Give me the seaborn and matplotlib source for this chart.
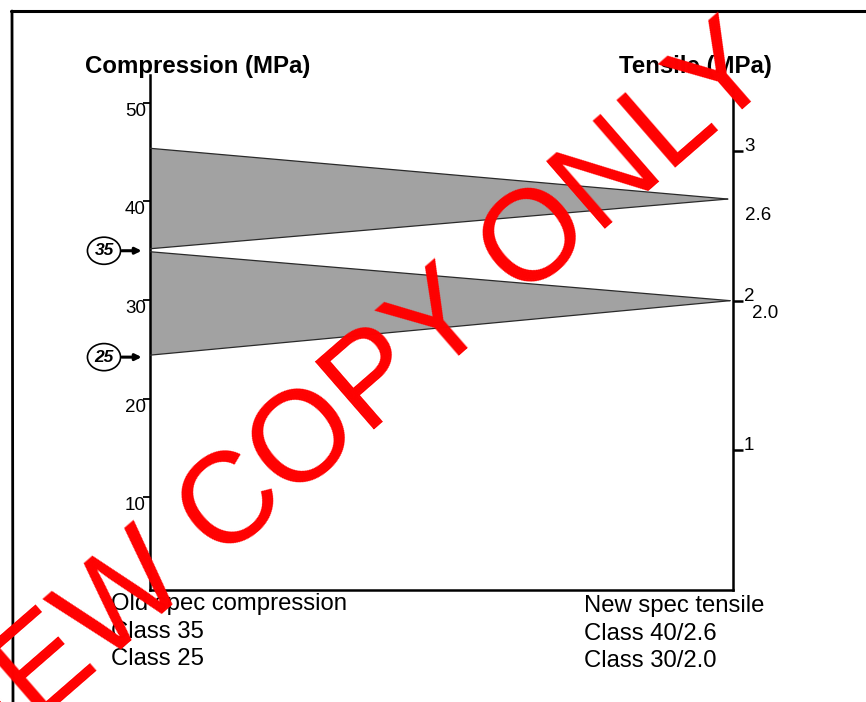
import matplotlib
matplotlib.use("Agg")
import matplotlib.pyplot as plt
from matplotlib.lines import Line2D
import numpy as np
import pandas as pd
import seaborn as sns

# ---------------- data ----------------
compression_ticks = [10, 20, 30, 40, 50]
tensile_ticks = [1, 2, 3]
band_names = ["Class 40/2.6", "Class 30/2.0"]
band_left_top = [45.4, 34.9]        # compression MPa at left edge
band_left_bottom = [35.2, 24.4]     # compression MPa at left edge
band_tip_tensile = [2.68, 2.0]      # tensile MPa at right tip
band_tip_x = [0.991, 0.995]         # fraction of width where the band closes
old_class_labels = ["35", "25"]
old_class_levels = [35.0, 24.2]     # compression MPa (arrow positions)
tensile_notes = ["2.6", "2.0"]
tensile_note_levels = [2.6, 2.0]
left_lines = ["Old spec compression", "Class 35", "Class 25"]
right_lines = ["New spec tensile", "Class 40/2.6", "Class 30/2.0"]

# ---------------- figure ----------------
sns.set_theme(style="white")
plt.rcParams["font.family"] = ["Liberation Sans", "DejaVu Sans"]
plt.rcParams["text.color"] = "black"

W, H = 866, 702
fig = plt.figure(figsize=(W / 100, H / 100), dpi=100)
fig.patch.set_facecolor("white")

def fx(px):
    return px / W

def fy(py):
    return 1 - py / H

ax = fig.add_axes([fx(150), fy(590), (733 - 150) / W, (590 - 75) / H])
ax2 = ax.twinx()

yl = (0.56, 52.84)
yr = (0.064, 3.51)
ax.set_xlim(0, 1)
ax.set_ylim(*yl)
ax2.set_ylim(*yr)

def t2c(t):
    return yl[0] + (t - yr[0]) / (yr[1] - yr[0]) * (yl[1] - yl[0])

for top, bot, tip_t, tip_x in zip(band_left_top, band_left_bottom,
                                  band_tip_tensile, band_tip_x):
    tip = t2c(tip_t)
    xs = np.array([0.0, tip_x])
    ax.fill_between(xs, [top, tip], [bot, tip], facecolor="#a2a2a2",
                    edgecolor="none", zorder=2)
    edges = pd.DataFrame({"x": [0.0, tip_x, 0.0, tip_x],
                          "y": [top, tip, bot, tip],
                          "edge": ["top", "top", "bottom", "bottom"]})
    sns.lineplot(data=edges, x="x", y="y", units="edge", estimator=None,
                 color="#2a2a2a", lw=0.9, ax=ax, zorder=3)

# spines
for s in ["top", "right"]:
    ax.spines[s].set_visible(False)
for s in ["top", "left", "bottom"]:
    ax2.spines[s].set_visible(False)
for s in ["left", "bottom"]:
    ax.spines[s].set_linewidth(1.8)
    ax.spines[s].set_color("black")
ax2.spines["right"].set_linewidth(1.8)
ax2.spines["right"].set_color("black")
ax2.spines["right"].set_bounds(yr[0], 3.43)

ax.set_xticks([])
ax.set_xlabel("")
ax.set_ylabel("")
ax2.set_ylabel("")
ax.set_yticks(compression_ticks)
ax.set_yticklabels([str(v) for v in compression_ticks])
ax.tick_params(axis="y", left=True, direction="out", length=5, width=1.3,
               pad=-2, labelsize=13.5, colors="black")
for lbl in ax.get_yticklabels():
    lbl.set_va("top")
ax2.set_yticks(tensile_ticks)
ax2.set_yticklabels([str(v) for v in tensile_ticks])
ax2.tick_params(axis="y", right=True, direction="out", length=7, width=1.8,
                pad=1, labelsize=13.5, colors="black")
for lbl in ax2.get_yticklabels():
    lbl.set_va("baseline")
ax.grid(False)
ax2.grid(False)

# extra tensile notes on the right
for txt, lev, off in zip(tensile_notes, tensile_note_levels,
                         [(12, -5), (19, -13)]):
    ax2.annotate(txt, xy=(1, lev), xycoords=("axes fraction", "data"),
                 xytext=off, textcoords="offset pixels", ha="left",
                 va="center", fontsize=13.5, color="black")

# circled old class markers with arrows
for lab, lev in zip(old_class_labels, old_class_levels):
    ax.annotate("", xy=(0, lev), xycoords=("axes fraction", "data"),
                xytext=(-28, 0), textcoords="offset pixels",
                arrowprops=dict(arrowstyle="-|>", color="black", lw=2.2,
                                mutation_scale=9, shrinkA=0, shrinkB=6),
                annotation_clip=False)
    ax.annotate(lab, xy=(0, lev), xycoords=("axes fraction", "data"),
                xytext=(-46, 0), textcoords="offset pixels", ha="center",
                va="center", fontsize=12.5, fontweight="bold", style="italic",
                color="black",
                bbox=dict(boxstyle="ellipse,pad=0.12", fc="white",
                          ec="black", lw=1.2),
                annotation_clip=False)

# titles
fig.text(fx(85), fy(67), "Compression (MPa)", ha="left", va="center",
         fontsize=17.3, fontweight="bold", color="black")
fig.text(fx(772), fy(67), "Tensile (MPa)", ha="right", va="center",
         fontsize=17.3, fontweight="bold", color="black")

# bottom captions
for i, (l, r) in enumerate(zip(left_lines, right_lines)):
    yy = [604, 632, 659][i]
    fig.text(fx(111), fy(yy), l, ha="left", va="center", fontsize=17.2,
             color="black")
    fig.text(fx(584), fy(yy + 2), r, ha="left", va="center", fontsize=17.2,
             color="black")

# outer page frame
fig.add_artist(Line2D([fx(11), fx(866)], [fy(11), fy(11)], color="black",
                      lw=2.2, transform=fig.transFigure))
fig.add_artist(Line2D([fx(12), fx(13)], [fy(11), fy(702)], color="black",
                      lw=2.0, transform=fig.transFigure))

# watermark
fig.text(fx(340), fy(415), "VIEW COPY ONLY", ha="center", va="center",
         rotation=41, rotation_mode="anchor", fontsize=93, color="#ff0000",
         zorder=10)

fig.savefig("out.png", dpi=100, facecolor="white")
